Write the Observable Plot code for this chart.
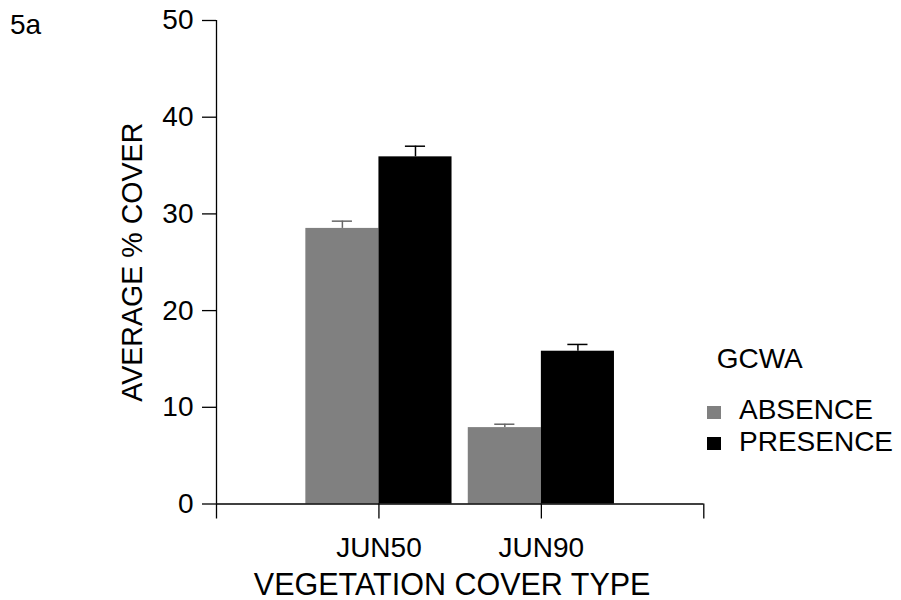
<!DOCTYPE html>
<html>
<head>
<meta charset="utf-8">
<script src="https://cdn.jsdelivr.net/npm/d3@7"></script>
<script src="https://cdn.jsdelivr.net/npm/@observablehq/plot@0.6"></script>
<style>
  html, body { margin: 0; padding: 0; background: #fff; }
  #wrap { position: relative; width: 901px; height: 600px; font-family: "Liberation Sans", Arial, sans-serif; color: #000; }
  .lbl { position: absolute; font-size: 28px; line-height: 28px; white-space: nowrap; }
  .sw { position: absolute; width: 14px; height: 13px; }
</style>
</head>
<body>
<div id="wrap"></div>
<script>
// ---- data ----
const categories = ["JUN50", "JUN90"];
const groups = ["ABSENCE", "PRESENCE"];
const absence = [28.5, 7.9];
const presence = [35.9, 15.8];
const absenceErr = [0.75, 0.35];
const presenceErr = [1.1, 0.7];
const groupColors = ["#808080", "#000000"];
const errColors = ["#666666", "#000000"];
const yTicks = [0, 10, 20, 30, 40, 50];
const xTickLabels = ["", "JUN50", "JUN90", ""];
const legendTitle = "GCWA";
const panelLabel = "5a";
const xTitle = "VEGETATION COVER TYPE";
const yTitle = "AVERAGE % COVER";

// ---- table ----
const rows = [];
categories.forEach((c, i) => {
  rows.push({cat: c, pos: i + 1, g: 0, group: groups[0], value: absence[i], err: absenceErr[i]});
  rows.push({cat: c, pos: i + 1, g: 1, group: groups[1], value: presence[i], err: presenceErr[i]});
});
const barW = 0.45;
const capHalf = 0.062;
const left = d => d.g === 0 ? d.pos - barW : d.pos;
const right = d => d.g === 0 ? d.pos : d.pos + barW;
const center = d => (left(d) + right(d)) / 2;
const xTickPos = xTickLabels.map((_, i) => i);

const chart = Plot.plot({
  width: 901,
  height: 600,
  marginLeft: 216,
  marginRight: 197.7,
  marginTop: 20,
  marginBottom: 96.5,
  style: {fontFamily: "'Liberation Sans', Arial, sans-serif", fontSize: "28px", background: "#fff", color: "#000"},
  x: {domain: [0, xTickLabels.length - 1], axis: null},
  y: {domain: [0, 50], axis: null},
  color: {domain: groups, range: groupColors},
  marks: [
    Plot.rectY(rows, {x1: left, x2: right, y1: 0, y2: "value", fill: "group"}),
    Plot.ruleX(rows, {x: center, y1: "value", y2: d => d.value + d.err, stroke: d => errColors[d.g], strokeWidth: 1.5}),
    Plot.ruleY(rows, {y: d => d.value + d.err, x1: d => center(d) - capHalf, x2: d => center(d) + capHalf, stroke: d => errColors[d.g], strokeWidth: 1.5}),
    Plot.ruleY([0], {stroke: "#000", strokeWidth: 1.3}),
    Plot.ruleX([0], {stroke: "#000", strokeWidth: 1.3}),
    Plot.axisY({ticks: yTicks, tickSize: 14, tickPadding: 9, fontSize: 28, label: null, strokeWidth: 1.3}),
    Plot.axisX({ticks: xTickPos, tickFormat: i => xTickLabels[i], tickSize: 15, tickPadding: 18, fontSize: 28, label: null, strokeWidth: 1.3}),
    Plot.text([xTitle], {text: d => d, frameAnchor: "bottom", textAnchor: "middle", lineAnchor: "bottom", dy: 90.5, dx: -8, fontSize: 30.5}),
    Plot.text([yTitle], {text: d => d, frameAnchor: "left", textAnchor: "middle", rotate: -90, dx: -83.5, fontSize: 28.6})
  ]
});

const wrap = document.getElementById("wrap");
wrap.appendChild(chart);
chart.style.position = "absolute";
chart.style.left = "0px";
chart.style.top = "0px";

function addLabel(text, x, top) {
  const el = document.createElement("div");
  el.className = "lbl";
  el.textContent = text;
  el.style.left = x + "px";
  el.style.top = top + "px";
  wrap.appendChild(el);
}
function addSwatch(color, x, top) {
  const el = document.createElement("div");
  el.className = "sw";
  el.style.background = color;
  el.style.left = x + "px";
  el.style.top = top + "px";
  wrap.appendChild(el);
}
addLabel(panelLabel, 10, 11.3);
addLabel(legendTitle, 716.7, 345.3);
const legendTops = [395.6, 428];
const swatchTops = [405.5, 436.5];
groups.forEach((g, i) => {
  addSwatch(groupColors[i], 707, swatchTops[i]);
  addLabel(g, 739, legendTops[i]);
});
</script>
</body>
</html>
